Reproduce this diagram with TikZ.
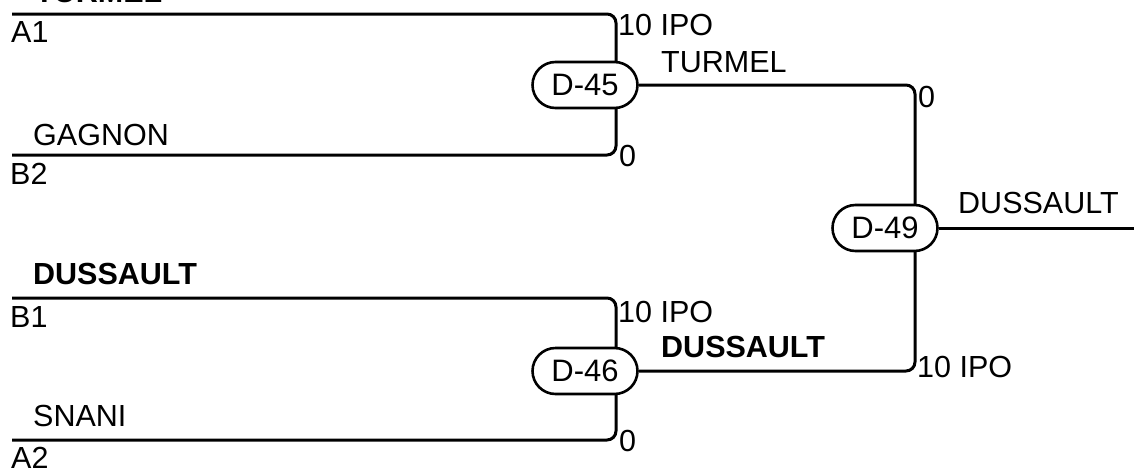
\documentclass[tikz,border=0pt]{standalone}
\usepackage{fontspec}
\setmainfont{Liberation Sans}
\usetikzlibrary{shapes.misc,backgrounds}
\begin{document}
\begin{tikzpicture}[x=1pt,y=-1pt,
  wire/.style={line width=3pt,rounded corners=9pt},
  game/.style={rounded rectangle,draw,line width=2.6pt,fill=white,minimum width=105pt,minimum height=46pt,inner sep=0pt,font=\fontsize{31}{36}\selectfont},
  lbl/.style={anchor=base west,inner sep=0pt,font=\fontsize{30.5}{36}\selectfont},
  blbl/.style={lbl,font=\fontsize{30.5}{36}\selectfont\bfseries}]
\useasboundingbox (0,0) rectangle (1134,471);
% game nodes
\node[game] (d45) at (585,85) {D-45};
\node[game] (d46) at (585,371) {D-46};
\node[game] (d49) at (885,228) {D-49};
% free ends and joints
\coordinate (a1) at (12,14);
\coordinate (b2) at (12,155);
\coordinate (b1) at (12,298);
\coordinate (a2) at (12,440);
\coordinate (j45) at (616,85);
\coordinate (j46) at (616,371);
\coordinate (j49) at (915,228);
\coordinate (out) at (1134,228);
\begin{pgfonlayer}{background}
\draw[wire] (a1) -| (j45) |- (b2);
\draw[wire] (b1) -| (j46) |- (a2);
\draw[wire] (d45.east) -| (j49) |- (d46.east);
\draw[wire] (d49.east) -- (out);
\end{pgfonlayer}
% labels
\node[blbl] (t0) at (35,2) {TURMEL};
\node[lbl] (la1) at (11,42) {A1};
\node[lbl] (lgag) at (33,145) {GAGNON};
\node[lbl] (lb2) at (10,184) {B2};
\node[blbl] (ldus) at (33,284) {DUSSAULT};
\node[lbl] (lb1) at (10,327) {B1};
\node[lbl] (lsna) at (33,426) {SNANI};
\node[lbl] (la2) at (11,468) {A2};
\node[lbl] (s1) at (618,35) {10 IPO};
\node[lbl] (s2) at (619,166) {0};
\node[lbl] (s3) at (618,322) {10 IPO};
\node[lbl] (s4) at (619,451) {0};
\node[lbl] (w45) at (661,72) {TURMEL};
\node[blbl] (w46) at (661,357) {DUSSAULT};
\node[lbl] (s5) at (918,107) {0};
\node[lbl] (s6) at (917,377) {10 IPO};
\node[lbl] (w49) at (958,213) {DUSSAULT};
\end{tikzpicture}
\end{document}
